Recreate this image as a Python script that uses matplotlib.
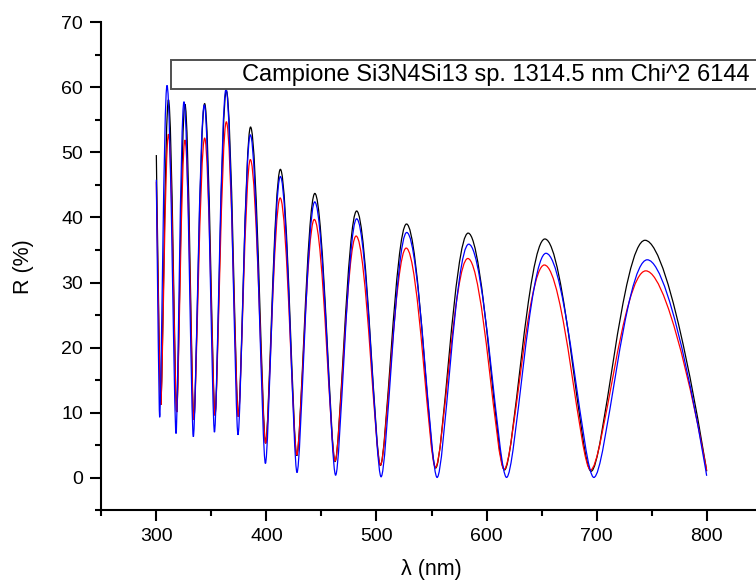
import numpy as np
import matplotlib
matplotlib.use("Agg")
import matplotlib.pyplot as plt
from matplotlib.path import Path
from matplotlib.patches import PathPatch, Rectangle

plt.rcParams['font.family'] = ['Liberation Sans', 'DejaVu Sans']

# extrema (start, troughs / peaks, end)
lam_black = [300, 304, 311, 318.5, 326, 334, 343.9, 353.3, 363.6, 374.5, 385.6, 399.3, 412.7,
             427.6, 444, 462.4, 482, 503.6, 527.3, 553.8, 583.3, 616.3, 653, 695, 744, 800]
R_black = [49.6, 11.2, 58.1, 10.1, 57.4, 8.9, 57.5, 9.6, 59.5, 9.4, 53.9, 5.3, 47.4,
           3.4, 43.7, 2.5, 41.0, 1.9, 39.0, 1.5, 37.6, 1.2, 36.7, 1.0, 36.5, 1.0]

lam_red = [300, 304, 311, 318.5, 326, 334, 343.9, 353.3, 363.6, 374.5, 385.4, 399.3, 412.5,
           427.6, 443.5, 462.4, 481.5, 503.6, 527, 553.6, 583, 616, 652.5, 694.5, 744.7, 800]
R_red = [45.5, 11.2, 52.8, 10.1, 51.9, 8.9, 52.2, 9.6, 54.7, 9.4, 48.9, 5.3, 43.0,
         3.5, 39.7, 2.6, 37.15, 1.95, 35.3, 1.6, 33.7, 1.3, 32.7, 1.2, 31.8, 1.1]

lam_blue = [300, 303, 309.7, 317.9, 325.1, 333.6, 343.6, 352.8, 363.3, 374.2, 385.4, 399.1, 412.7,
            427.8, 443.9, 462.9, 482, 504.2, 527.5, 555.1, 583.8, 618.2, 654, 697.5, 746, 800]
R_blue = [45.8, 9.3, 60.3, 6.8, 57.8, 6.3, 57.3, 7.0, 59.7, 6.6, 52.7, 2.2, 46.3,
          0.8, 42.4, 0.4, 39.8, 0.15, 37.7, 0.05, 35.9, 0.05, 34.5, 0.05, 33.5, 0.3]

legend_text = "Campione Si3N4Si13 sp. 1314.5 nm Chi^2 6144"


def smooth_path(lam, R, k_peak=0.42, k_trough=0.22):
    # cubic bezier through the extrema, flat tangent at every peak/trough
    verts = [(lam[0], R[0])]
    codes = [Path.MOVETO]
    n = len(lam)
    for i in range(n - 1):
        x0, y0, x1, y1 = lam[i], R[i], lam[i + 1], R[i + 1]
        dx = x1 - x0
        k0 = 0 if i == 0 else (k_peak if y0 > y1 else k_trough)
        k1 = 0 if i + 1 == n - 1 else (k_peak if y1 > y0 else k_trough)
        verts += [(x0 + k0 * dx, y0), (x1 - k1 * dx, y1), (x1, y1)]
        codes += [Path.CURVE4] * 3
    return Path(verts, codes)


fig = plt.figure(figsize=(7.56, 5.84), dpi=100)
W, H = 756., 584.
ax = fig.add_axes([101.3 / W, (H - 510.3) / H, (761.7 - 101.3) / W, (510.3 - 22.3) / H])

for lam, R, c in [(lam_black, R_black, 'black'), (lam_red, R_red, 'red'), (lam_blue, R_blue, 'blue')]:
    ax.add_patch(PathPatch(smooth_path(lam, R), facecolor='none', edgecolor=c, lw=0.9))

ax.set_xlim(250, 850)
ax.set_ylim(-5, 70)
ax.set_xticks([300, 400, 500, 600, 700, 800])
ax.set_xticks(np.arange(250, 851, 50), minor=True)
ax.set_yticks(np.arange(0, 71, 10))
ax.set_yticks(np.arange(-5, 71, 5), minor=True)

ax.spines['top'].set_visible(False)
ax.spines['right'].set_visible(False)
for s in ['left', 'bottom']:
    ax.spines[s].set_linewidth(1.5)
ax.tick_params(which='major', length=8, width=1.5, labelsize=14, pad=5)
ax.tick_params(which='minor', length=4.5, width=1.5)

ax.set_xlabel('λ (nm)', fontsize=15.5, labelpad=10)
ax.set_ylabel('R (%)', fontsize=15.5, labelpad=20)

# legend box, runs off the right edge like the original
fig.add_artist(Rectangle((170.7 / W, 1 - 88.7 / H), 0.8, 28.7 / H, transform=fig.transFigure,
                         facecolor='white', edgecolor='#505050', lw=1.4))
fig.text(750 / W, 1 - 74.5 / H, legend_text, ha='right', va='center', fontsize=17)

fig.savefig('out.png', dpi=100)
